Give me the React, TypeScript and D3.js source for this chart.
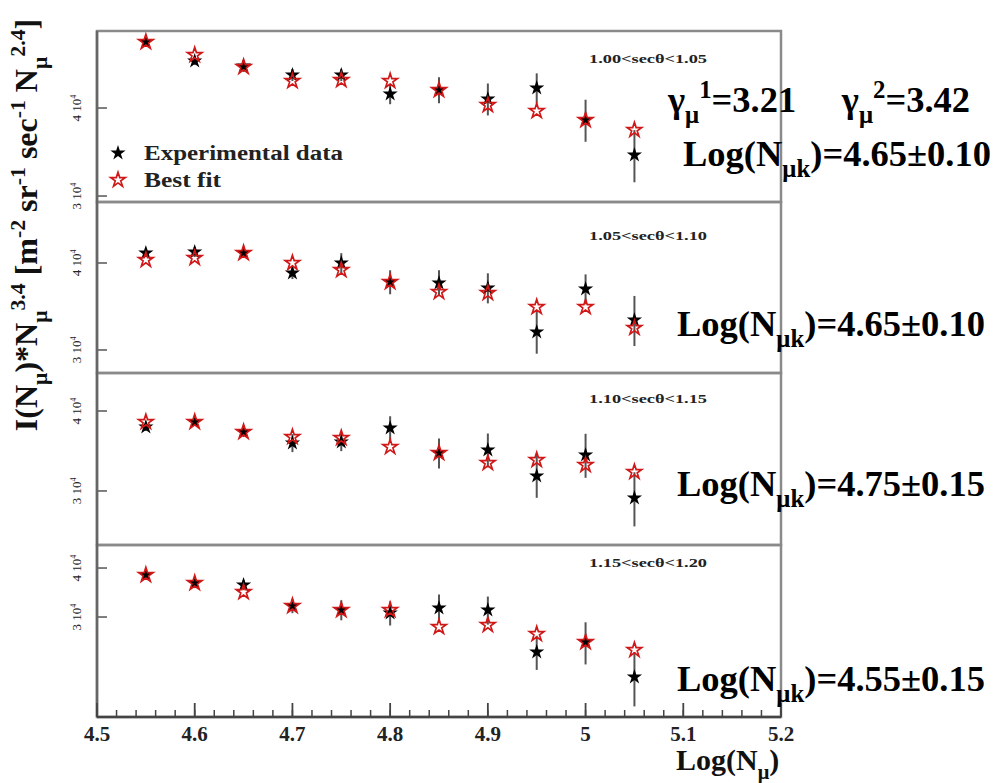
import React from 'react';
import * as d3 from 'd3';

// ---------- data ----------
const logN = [4.55, 4.6, 4.65, 4.7, 4.75, 4.8, 4.85, 4.9, 4.95, 5.0, 5.05];
const panelLabels = ['1.00<secθ<1.05', '1.05<secθ<1.10', '1.10<secθ<1.15', '1.15<secθ<1.20'];

const expPanel1 = [49630, 46640, 45890, 44560, 44560, 41870, 42420, 41190, 42700, 38460, 34300];
const errPanel1 = [650, 610, 900, 875, 875, 1370, 1800, 2150, 2100, 2640, 2920];
const fitPanel1 = [49630, 47570, 45740, 43690, 43830, 43690, 42420, 40390, 39610, 38460, 37230];

const expPanel2 = [41340, 41480, 41340, 38700, 40000, 37560, 37440, 36830, 31840, 36700, 33130];
const errPanel2 = [550, 690, 680, 770, 1320, 1490, 1610, 1830, 2210, 1820, 2740];
const fitPanel2 = [40400, 40670, 41340, 40000, 39080, 37560, 36340, 36220, 34580, 34580, 32270];

const expPanel3 = [37760, 38450, 37090, 35650, 35780, 37630, 34390, 34770, 31660, 34150, 29250];
const errPanel3 = [540, 550, 670, 1150, 1160, 1620, 1850, 2120, 2390, 2700, 2840];
const fitPanel3 = [38450, 38450, 37090, 36430, 36300, 35140, 34390, 33180, 33540, 32940, 32120];

const expPanel4 = [38390, 36630, 36200, 32000, 31260, 30710, 31630, 31260, 24430, 25900, 21090];
const errPanel4 = [900, 1075, 1063, 1315, 1835, 2165, 2600, 2570, 2440, 3190, 3340];
const fitPanel4 = [38390, 36630, 34740, 32000, 31260, 31260, 28290, 28630, 27150, 25900, 24720];

const expData = [expPanel1, expPanel2, expPanel3, expPanel4];
const expErr = [errPanel1, errPanel2, errPanel3, errPanel4];
const fitData = [fitPanel1, fitPanel2, fitPanel3, fitPanel4];

const yDomains: [number, number][] = [
  [29420, 51450],
  [27800, 48940],
  [24700, 45860],
  [16680, 45790],
];
const yTickValues = [30000, 40000];
const yTickMantissa = ['3', '4'];

const xTickValues = [4.5, 4.6, 4.7, 4.8, 4.9, 5.0, 5.1, 5.2];
const xTickLabels = ['4.5', '4.6', '4.7', '4.8', '4.9', '5', '5.1', '5.2'];

const gammaText = [
  { t: 'γ' }, { t: 'μ', s: 'sub' }, { t: '1', s: 'sup' }, { t: '=3.21\u00a0\u00a0\u00a0\u00a0\u00a0γ' },
  { t: 'μ', s: 'sub' }, { t: '2', s: 'sup' }, { t: '=3.42' },
];
const logNkValues = ['4.65±0.10', '4.65±0.10', '4.75±0.15', '4.55±0.15'];

// ---------- layout ----------
const W = 996, H = 783;
const LEFT = 97, RIGHT = 781;
const PANEL_TOPS = [31, 202, 373, 545];
const BOTTOM = 717;
const LABEL_DY = [32, 38, 30, 22];
const LOG_POS = [
  { x: 683, y: 166 },
  { x: 677, y: 336 },
  { x: 677, y: 496 },
  { x: 677, y: 691 },
];
const SERIF = '"Liberation Serif", "Times New Roman", serif';

type Seg = { t: string; s?: string };

function Rich({ segs, x, y, size, ...rest }: any) {
  let level = 0;
  const out: any[] = [];
  segs.forEach((sg: Seg, i: number) => {
    const target = sg.s === 'sub' ? size * 0.3 : sg.s === 'sup' ? -size * 0.38 : 0;
    const dy = target - level;
    level = target;
    out.push(
      <tspan key={i} dy={dy} fontSize={sg.s ? size * 0.68 : size}>
        {sg.t}
      </tspan>
    );
  });
  return (
    <text x={x} y={y} fontSize={size} {...rest}>
      {out}
    </text>
  );
}

export default function App() {
  const x = d3.scaleLinear().domain([4.5, 5.2]).range([LEFT, RIGHT]);
  const starBig = d3.symbol().type(d3.symbolStar).size(72)()!;
  const starFit = d3.symbol().type(d3.symbolStar).size(66)()!;
  const minorTicks = d3.range(4.5, 5.2001, 0.02).map((v) => +v.toFixed(2));

  const panels = PANEL_TOPS.map((top, i) => {
    const bottom = i < 3 ? PANEL_TOPS[i + 1] : BOTTOM;
    const y = d3.scaleLog().domain(yDomains[i]).range([bottom, top]);
    return { top, bottom, y, i };
  });

  const yTitle: Seg[] = [
    { t: 'I(N' }, { t: 'μ', s: 'sub' }, { t: ')*N' }, { t: 'μ', s: 'sub' }, { t: '3.4', s: 'sup' },
    { t: ' [m' }, { t: '-2', s: 'sup' }, { t: ' sr' }, { t: '-1', s: 'sup' }, { t: ' sec' },
    { t: '-1', s: 'sup' }, { t: ' N' }, { t: 'μ', s: 'sub' }, { t: '2.4', s: 'sup' }, { t: ']' },
  ];

  return (
    <svg width={W} height={H} style={{ position: 'absolute', left: 0, top: 0, background: '#fff' }} fontFamily={SERIF}>
      <rect x={0} y={0} width={W} height={H} fill="#fff" />
      {panels.map(({ top, bottom, y, i }) => (
        <g key={i}>
          <rect x={LEFT} y={top} width={RIGHT - LEFT} height={bottom - top} fill="none" stroke="#8a8a8a" strokeWidth={2.5} />
          {yTickValues.map((v, k) =>
            y(v) > top + 2 && y(v) < bottom - 2 ? (
              <g key={k}>
                <line x1={LEFT} x2={LEFT + 10} y1={y(v)} y2={y(v)} stroke="#555" strokeWidth={1.5} />
                <g transform={`translate(81,${y(v)}) rotate(-90)`}>
                  <text textAnchor="middle" fontSize={13} fill="#222">
                    {yTickMantissa[k]} 10<tspan dy={-5} fontSize={8}>4</tspan>
                  </text>
                </g>
              </g>
            ) : null
          )}
          <text x={648} y={top + LABEL_DY[i]} textAnchor="middle" fontSize={12} fontWeight="bold" fill="#222" textLength={118} lengthAdjust="spacingAndGlyphs">
            {panelLabels[i]}
          </text>
          {/* error bars */}
          {logN.map((n, k) => (
            <line key={'e' + k} x1={x(n)} x2={x(n)} y1={y(expData[i][k] - expErr[i][k])} y2={y(expData[i][k] + expErr[i][k])} stroke="#555" strokeWidth={2} />
          ))}
          {logN.map((n, k) => (
            <path key={'b' + k} d={starBig} transform={`translate(${x(n)},${y(expData[i][k])})`} fill="#000" />
          ))}
          {logN.map((n, k) => (
            <path key={'r' + k} d={starFit} transform={`translate(${x(n)},${y(fitData[i][k])})`} fill="none" stroke="#d01818" strokeWidth={1.7} />
          ))}
        </g>
      ))}
      <line x1={LEFT} x2={LEFT} y1={PANEL_TOPS[0]} y2={BOTTOM} stroke="#666" strokeWidth={2.5} />
      {/* x axis */}
      <line x1={LEFT} x2={RIGHT} y1={BOTTOM} y2={BOTTOM} stroke="#444" strokeWidth={2.5} />
      {minorTicks.map((v, k) => (
        <line key={k} x1={x(v)} x2={x(v)} y1={BOTTOM} y2={BOTTOM - 7} stroke="#444" strokeWidth={1.5} />
      ))}
      {xTickValues.map((v, k) => (
        <g key={k}>
          <line x1={x(v)} x2={x(v)} y1={BOTTOM} y2={BOTTOM - 14} stroke="#444" strokeWidth={1.8} />
          <text x={x(v)} y={BOTTOM + 24} textAnchor="middle" fontSize={21} fontWeight="bold" fill="#222">
            {xTickLabels[k]}
          </text>
        </g>
      ))}
      <Rich segs={[{ t: 'Log(N' }, { t: 'μ', s: 'sub' }, { t: ')' }]} x={676} y={770} size={30} fontWeight="bold" fill="#111" />
      {/* y title */}
      <g transform="translate(37,225) rotate(-90)">
        <Rich segs={yTitle} x={0} y={0} size={32} fontWeight="bold" textAnchor="middle" fill="#111" />
      </g>
      {/* legend */}
      <path d={starBig} transform="translate(118,153)" fill="#000" />
      <text x={144} y={160} fontSize={20} fontWeight="bold" fill="#222" textLength={199} lengthAdjust="spacingAndGlyphs">Experimental data</text>
      <path d={starFit} transform="translate(118,180)" fill="none" stroke="#d01818" strokeWidth={1.7} />
      <text x={144} y={187} fontSize={20} fontWeight="bold" fill="#222" textLength={77} lengthAdjust="spacingAndGlyphs">Best fit</text>
      {/* annotations */}
      <Rich segs={gammaText} x={668} y={112} size={36.5} fontWeight="bold" fill="#000" />
      {LOG_POS.map((p, i) => (
        <Rich key={i} segs={[{ t: 'Log(N' }, { t: 'μk', s: 'sub' }, { t: ')=' + logNkValues[i] }]} x={p.x} y={p.y} size={36.5} fontWeight="bold" fill="#000" />
      ))}
    </svg>
  );
}
